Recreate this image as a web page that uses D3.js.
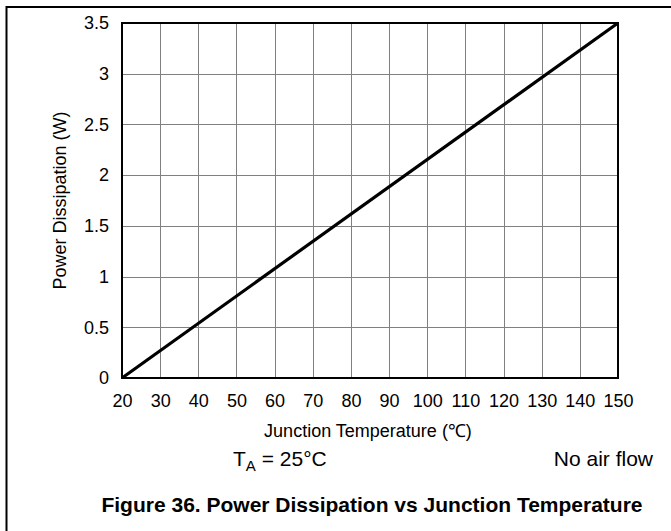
<!DOCTYPE html>
<html>
<head>
<meta charset="utf-8">
<title>Power Dissipation vs Junction Temperature</title>
<script src="https://d3js.org/d3.v7.min.js"></script>
<style>
	html, body {margin: 0; background: #fff; overflow: hidden}
	text {font-family: "Liberation Sans", Arial, sans-serif; fill: #000}
	.grid line {stroke: #808080; stroke-width: 1}
</style>
</head>
<body>
<script>
	// data
	var tempTicks = [20, 30, 40, 50, 60, 70, 80, 90, 100, 110, 120, 130, 140, 150];
	var powerTicks = [0, 0.5, 1, 1.5, 2, 2.5, 3, 3.5];
	var junctionTemp = [20, 150];
	var powerW = [0, 3.5];

	var width = 671, height = 531;
	var plotLeft = 122, plotRight = 618, plotTop = 23, plotBottom = 378;
	var axisFont = 18;

	var svg = d3.select("body").append("svg")
		.attr("width", width)
		.attr("height", height);

	// figure frame (top and left only)
	svg.append("path")
		.attr("d", "M6.5,531 L6.5,7 L671,7")
		.attr("fill", "none")
		.attr("stroke", "#000")
		.attr("stroke-width", 2);

	var x = d3.scaleLinear().domain([20, 150]).range([plotLeft, plotRight]);
	var y = d3.scaleLinear().domain([0, 3.5]).range([plotBottom, plotTop]);

	var grid = svg.append("g").attr("class", "grid");
	grid.selectAll(".vx")
		.data(tempTicks.slice(1, -1))
		.enter().append("line")
		.attr("x1", function(d){ return Math.round(x(d)) + 0.5; })
		.attr("x2", function(d){ return Math.round(x(d)) + 0.5; })
		.attr("y1", plotTop)
		.attr("y2", plotBottom);
	grid.selectAll(".hy")
		.data(powerTicks.slice(1, -1))
		.enter().append("line")
		.attr("x1", plotLeft)
		.attr("x2", plotRight)
		.attr("y1", function(d){ return Math.round(y(d)) + 0.5; })
		.attr("y2", function(d){ return Math.round(y(d)) + 0.5; });

	// plot border
	svg.append("rect")
		.attr("x", plotLeft)
		.attr("y", plotTop)
		.attr("width", plotRight - plotLeft)
		.attr("height", plotBottom - plotTop)
		.attr("fill", "none")
		.attr("stroke", "#000")
		.attr("stroke-width", 2);

	var xAxis = svg.append("g")
		.attr("transform", "translate(0," + plotBottom + ")")
		.call(d3.axisBottom(x).tickValues(tempTicks).tickSize(0).tickPadding(16));
	xAxis.select(".domain").remove();
	xAxis.selectAll("text")
		.attr("font-size", axisFont)
		.attr("font-family", "Liberation Sans, Arial, sans-serif");

	var yAxis = svg.append("g")
		.attr("transform", "translate(" + plotLeft + ",0)")
		.call(d3.axisLeft(y).tickValues(powerTicks).tickSize(0).tickPadding(13)
			.tickFormat(function(d){ return String(d); }));
	yAxis.select(".domain").remove();
	yAxis.selectAll("text")
		.attr("font-size", axisFont)
		.attr("font-family", "Liberation Sans, Arial, sans-serif");

	// the line
	var line = d3.line()
		.x(function(d){ return x(d[0]); })
		.y(function(d){ return y(d[1]); });
	svg.append("path")
		.datum(d3.zip(junctionTemp, powerW))
		.attr("d", line)
		.attr("fill", "none")
		.attr("stroke", "#000")
		.attr("stroke-width", 3.2);

	// titles
	svg.append("text")
		.attr("x", (plotLeft + plotRight) / 2 - 2)
		.attr("y", 437)
		.attr("text-anchor", "middle")
		.attr("font-size", axisFont)
		.text("Junction Temperature (\u2103)");

	svg.append("text")
		.attr("transform", "translate(66," + (plotTop + plotBottom) / 2 + ")rotate(-90)")
		.attr("text-anchor", "middle")
		.attr("font-size", axisFont)
		.text("Power Dissipation (W)");

	var ta = svg.append("text")
		.attr("x", 233)
		.attr("y", 466)
		.attr("font-size", 21);
	ta.append("tspan").text("T");
	ta.append("tspan").attr("dy", 5).attr("font-size", 15).text("A");
	ta.append("tspan").attr("dy", -5).text(" = 25\u00b0C");

	svg.append("text")
		.attr("x", 653)
		.attr("y", 466)
		.attr("text-anchor", "end")
		.attr("font-size", 21)
		.text("No air flow");

	svg.append("text")
		.attr("x", 372)
		.attr("y", 512)
		.attr("text-anchor", "middle")
		.attr("font-size", 21)
		.attr("font-weight", "bold")
		.text("Figure 36. Power Dissipation vs Junction Temperature");
</script>
</body>
</html>
